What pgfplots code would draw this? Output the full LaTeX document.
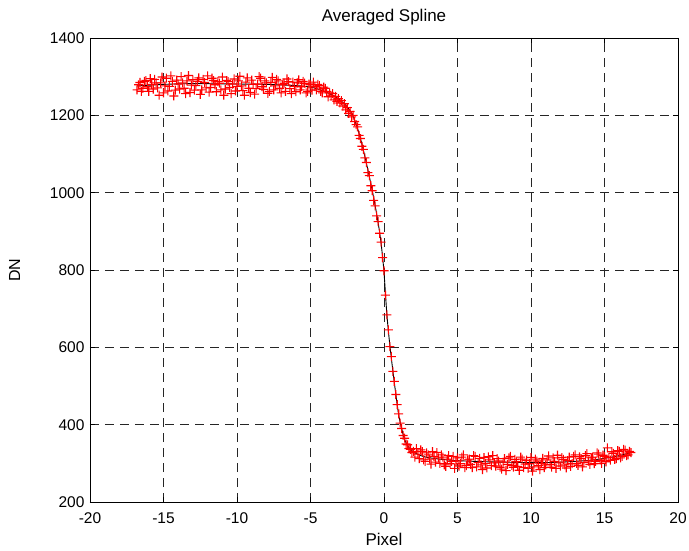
\documentclass[border=0pt]{standalone}
\usepackage{pgfplots}
\pgfplotsset{compat=1.18}
\usepackage{pgfplotstable}
\usepackage{fontspec}
\setmainfont{Liberation Sans}
\pgfdeclareplotmark{fplus}{%
  \pgfpathrectangle{\pgfpoint{-\pgfplotmarksize}{-0.55bp}}{\pgfpoint{2\pgfplotmarksize}{1.1bp}}%
  \pgfpathrectangle{\pgfpoint{-0.55bp}{-\pgfplotmarksize}}{\pgfpoint{1.1bp}{2\pgfplotmarksize}}%
  \pgfusepathqfill}
\pgfplotstableread{
x y
-16.8 1266
-16.7 1279
-16.6 1285
-16.5 1262
-16.4 1270
-16.3 1288
-16.2 1290
-16.1 1274
-16.0 1262
-15.9 1295
-15.8 1280
-15.7 1268
-15.6 1293
-15.5 1284
-15.4 1271
-15.3 1252
-15.2 1284
-15.1 1299
-15.0 1258
-14.9 1276
-14.8 1296
-14.7 1263
-14.6 1275
-14.5 1302
-14.4 1288
-14.3 1250
-14.2 1265
-14.1 1291
-14.0 1281
-13.9 1268
-13.8 1300
-13.7 1284
-13.6 1270
-13.5 1256
-13.4 1289
-13.3 1303
-13.2 1259
-13.1 1278
-13.0 1292
-12.9 1265
-12.8 1277
-12.7 1288
-12.6 1297
-12.5 1254
-12.4 1266
-12.3 1293
-12.2 1285
-12.1 1271
-12.0 1302
-11.9 1260
-11.8 1272
-11.7 1296
-11.6 1290
-11.5 1279
-11.4 1261
-11.3 1287
-11.2 1283
-11.1 1266
-11.0 1299
-10.9 1252
-10.8 1268
-10.7 1290
-10.6 1287
-10.5 1272
-10.4 1256
-10.3 1281
-10.2 1294
-10.1 1263
-10.0 1275
-9.9 1289
-9.8 1301
-9.7 1276
-9.6 1264
-9.5 1252
-9.4 1286
-9.3 1297
-9.2 1270
-9.1 1259
-9.0 1291
-8.9 1280
-8.8 1255
-8.7 1269
-8.6 1281
-8.5 1300
-8.4 1296
-8.3 1274
-8.2 1267
-8.1 1289
-8.0 1284
-7.9 1257
-7.8 1262
-7.7 1285
-7.6 1298
-7.5 1266
-7.4 1276
-7.3 1293
-7.2 1289
-7.1 1270
-7.0 1258
-6.9 1279
-6.8 1283
-6.7 1262
-6.6 1294
-6.5 1287
-6.4 1269
-6.3 1256
-6.2 1286
-6.1 1275
-6.0 1261
-5.9 1284
-5.8 1292
-5.7 1266
-5.6 1274
-5.5 1288
-5.4 1283
-5.3 1258
-5.2 1262
-5.1 1281
-5.0 1279
-4.9 1265
-4.8 1286
-4.7 1274
-4.6 1266
-4.5 1280
-4.4 1277
-4.3 1262
-4.2 1258
-4.1 1273
-4.0 1270
-3.9 1262
-3.8 1248
-3.7 1258
-3.6 1250
-3.5 1256
-3.4 1240
-3.3 1249
-3.2 1236
-3.1 1243
-3.0 1232
-2.9 1238
-2.8 1224
-2.7 1230
-2.6 1214
-2.5 1220
-2.4 1205
-2.3 1210
-2.2 1196
-2.1 1200
-2.0 1184
-1.9 1176
-1.8 1170
-1.7 1148
-1.6 1140
-1.5 1120
-1.4 1112
-1.3 1090
-1.2 1078
-1.1 1052
-1.0 1044
-0.9 1018
-0.8 1005
-0.7 980
-0.6 966
-0.5 940
-0.4 925
-0.3 895
-0.2 872
-0.1 832
0.0 798
0.1 735
0.2 684
0.3 645
0.4 602
0.5 576
0.6 538
0.7 512
0.8 478
0.9 452
1.0 428
1.1 404
1.2 390
1.3 372
1.4 365
1.5 350
1.6 348
1.7 338
1.8 336
1.9 328
2.0 331
2.1 316
2.2 338
2.3 324
2.4 312
2.5 335
2.6 330
2.7 309
2.8 305
2.9 327
3.0 322
3.1 311
3.2 298
3.3 330
3.4 318
3.5 303
3.6 328
3.7 314
3.8 300
3.9 322
4.0 316
4.1 296
4.2 292
4.3 311
4.4 320
4.5 299
4.6 305
4.7 318
4.8 287
4.9 306
5.0 314
5.1 293
5.2 299
5.3 316
5.4 322
5.5 289
5.6 294
5.7 309
5.8 311
5.9 297
6.0 289
6.1 320
6.2 318
6.3 291
6.4 302
6.5 313
6.6 296
6.7 284
6.8 315
6.9 300
7.0 288
7.1 317
7.2 309
7.3 294
7.4 320
7.5 301
7.6 293
7.7 312
7.8 306
7.9 290
8.0 285
8.1 303
8.2 312
8.3 281
8.4 297
8.5 314
8.6 318
8.7 295
8.8 290
8.9 310
9.0 304
9.1 292
9.2 282
9.3 316
9.4 311
9.5 289
9.6 298
9.7 308
9.8 287
9.9 299
10.0 315
10.1 280
10.2 291
10.3 311
10.4 306
10.5 294
10.6 284
10.7 300
10.8 313
10.9 289
11.0 296
11.1 309
11.2 319
11.3 297
11.4 290
11.5 314
11.6 305
11.7 287
11.8 321
11.9 301
12.0 293
12.1 315
12.2 310
12.3 296
12.4 288
12.5 307
12.6 316
12.7 292
12.8 299
12.9 318
13.0 322
13.1 300
13.2 295
13.3 317
13.4 312
13.5 291
13.6 302
13.7 320
13.8 325
13.9 306
14.0 297
14.1 314
14.2 316
14.3 299
14.4 305
14.5 327
14.6 324
14.7 308
14.8 300
14.9 321
15.0 318
15.1 304
15.2 340
15.3 315
15.4 308
15.5 330
15.6 326
15.7 310
15.8 312
15.9 333
16.0 331
16.1 314
16.2 318
16.3 336
16.4 334
16.5 320
16.6 322
16.7 331
16.8 328
}\rawdata
\pgfplotstableread{
x y
-16.8 1276
-15 1280
-13 1282
-10 1281
-8 1280
-6 1277
-5 1273
-4.5 1268
-4 1261
-3.5 1252
-3 1240
-2.5 1222
-2.2 1205
-2 1188
-1.75 1160
-1.5 1125
-1.25 1085
-1 1042
-0.77 1000
-0.5 945
-0.32 903
-0.2 870
-0.1 835
0 795
0.1 738
0.2 683
0.3 642
0.4 605
0.6 540
0.8 480
1.0 425
1.2 390
1.4 362
1.6 346
1.8 336
2.0 329
2.5 320
3 315
4 310
5 307
7 304
10 302
12 303
14 308
15 313
16 320
16.8 328
}\meandata
\definecolor{mred}{rgb}{1,0,0}
\begin{document}
\begin{tikzpicture}
\begin{axis}[
  name=ax,
  scale only axis,
  width=588bp, height=464bp,
  xmin=-20, xmax=20, ymin=200, ymax=1400,
  xtick={-20,-15,...,20},
  xticklabels={-20,-15,-10,-5,0,5,10,15,20},
  ytick={200,400,...,1400},
  yticklabels={200,400,600,800,1000,1200,1400},
  tick align=inside,
  major tick length=5bp,
  tick style={black, line width=0.6bp},
  axis line style={black, line width=0.8bp},
  grid=major,
  major grid style={black!85, dash pattern=on 9bp off 6bp, line width=0.8bp},
  tick label style={font=\fontsize{15.5bp}{18bp}\selectfont},
  xticklabel style={yshift=-7bp},
  yticklabel style={xshift=-2bp},
  title={Averaged Spline},
  title style={font=\fontsize{17bp}{20bp}\selectfont, yshift=3bp},
  xlabel={Pixel},
  xlabel style={font=\fontsize{17bp}{20bp}\selectfont, yshift=-3bp},
  ylabel={DN},
  ylabel style={font=\fontsize{16bp}{19bp}\selectfont, yshift=23bp},
]
\addplot[mred, only marks, mark=fplus, mark size=4.5bp, mark options={solid, fill=mred, draw=mred}] table[x=x,y=y] {\rawdata};
\addplot[black, line width=0.9bp, smooth, no markers] table[x=x,y=y] {\meandata};
\end{axis}
\pgfresetboundingbox
\path[use as bounding box] (ax.south west) ++(-90bp,-49bp) rectangle ++(689bp,551bp);
\end{tikzpicture}
\end{document}
